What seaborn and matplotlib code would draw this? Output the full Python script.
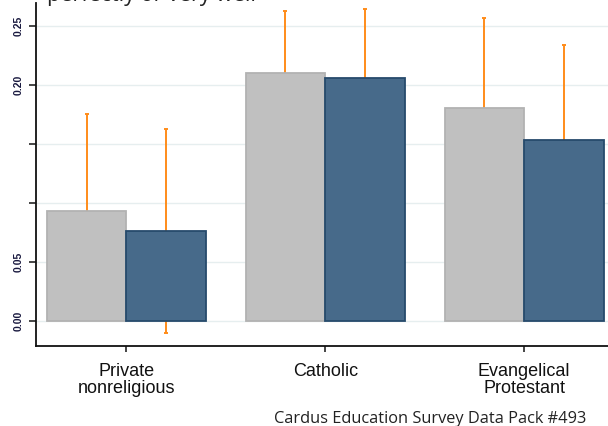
import pandas as pd
import numpy as np
import matplotlib
matplotlib.use("Agg")
import matplotlib.pyplot as plt
from matplotlib.container import BarContainer
import seaborn as sns

# values (share answering "perfectly or very well")
sectors = ["Private\nnonreligious", "Catholic", "Evangelical\nProtestant"]
groups = ["Comparison", "Sector"]
comparison_mean = [0.0934, 0.2100, 0.1806]
comparison_hi = [0.1755, 0.2632, 0.2567]
comparison_lo = [0.0113, 0.1568, 0.1045]
sector_mean = [0.0761, 0.2060, 0.1537]
sector_hi = [0.1625, 0.2649, 0.2340]
sector_lo = [-0.0102, 0.1471, 0.0734]
yticks = [0.0, 0.05, 0.10, 0.15, 0.20, 0.25]
ytick_labels = ["0.00", "0.05", "", "", "0.20", "0.25"]

df = pd.DataFrame({
    "sector": sectors * 2,
    "group": [groups[0]] * 3 + [groups[1]] * 3,
    "share": comparison_mean + sector_mean,
})

sns.set_style("white")

fig = plt.figure(figsize=(6.08, 4.26), dpi=100)
ax = fig.add_axes([36 / 608, 80 / 426, 1 - 36 / 608, 343 / 426])

sns.barplot(data=df, x="sector", y="share", hue="group", order=sectors,
            hue_order=groups, palette=["#c0c0c0", "#476a8a"], saturation=1,
            errorbar=None, width=0.8, legend=False, ax=ax, zorder=2)

edges = ["#b2b2b2", "#264a6c"]
los = [comparison_lo, sector_lo]
his = [comparison_hi, sector_hi]
bar_conts = [c for c in ax.containers if isinstance(c, BarContainer)]
for i, cont in enumerate(bar_conts):
    xs = []
    for bar in cont:
        bar.set_edgecolor(edges[i])
        bar.set_linewidth(1.3)
        xs.append(bar.get_x() + bar.get_width() / 2)
    means = np.array([b.get_height() for b in cont])
    yerr = [means - np.array(los[i]), np.array(his[i]) - means]
    ax.errorbar(xs, means, yerr=yerr, fmt="none", ecolor="#ff8c1a",
                elinewidth=1.4, capsize=1.5, capthick=1.4, zorder=1)

ax.set_axisbelow(True)
ax.set_ylim(-0.0215, 0.2697)
ax.set_xlim(-0.454, 2.421)
ax.set_yticks(yticks)
ax.set_yticklabels(ytick_labels, rotation=90, va="center", fontsize=7.5,
                   fontweight="bold", color="#1a1a40", family="Liberation Sans")
ax.yaxis.grid(True, color="#e6eeef", linewidth=1)
ax.xaxis.grid(False)
ax.set_xlabel("")
ax.set_ylabel("")
for lab in ax.get_xticklabels():
    lab.set_fontsize(13)
    lab.set_family("Liberation Sans")
    lab.set_linespacing(0.98)
    lab.set_color("#111111")

sns.despine(ax=ax, top=True, right=True)
for s in ["left", "bottom"]:
    ax.spines[s].set_color("#111111")
    ax.spines[s].set_linewidth(1.3)
ax.tick_params(axis="y", direction="out", length=5, width=1.2, pad=4, left=True)
ax.tick_params(axis="x", direction="out", length=4, width=1.2, pad=8.5, bottom=True)

fig.text(47 / 608, 1 - 1.5 / 426, "perfectly or very well", fontsize=15.5,
         family="Open Sans", color="#222222", ha="left", va="baseline")
fig.text(586 / 608, 3 / 426, "Cardus Education Survey Data Pack #493",
         fontsize=11.8, family="Open Sans", color="#222222",
         ha="right", va="baseline")

fig.savefig("out.png", dpi=100)
